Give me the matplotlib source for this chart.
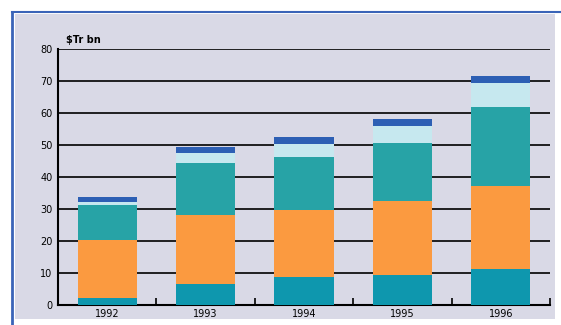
import matplotlib.pyplot as plt
import numpy as np

years = ["1992", "1993", "1994", "1995", "1996"]
# stacked segment heights
seg1 = [2.3, 6.5, 8.9, 9.4, 11.2]
seg2 = [17.9, 21.7, 20.9, 23.0, 26.1]
seg3 = [11.1, 16.2, 16.5, 18.3, 24.5]
seg4 = [0.9, 3.1, 3.9, 5.2, 7.7]
seg5 = [1.6, 1.9, 2.4, 2.1, 2.1]
yticks = [0, 10, 20, 30, 40, 50, 60, 70, 80]
unit_label = "$Tr bn"

colors = ["#0e97ae", "#fb9a40", "#27a3a6", "#c6e8ef", "#2d5fb4"]

fig = plt.figure(figsize=(5.61, 3.25), dpi=100)
fig.patch.set_facecolor("white")

# panel background and blue frame lines
fig.add_artist(plt.Rectangle((15 / 561, 0.02), 540 / 561, 1 - 14 / 325 - 0.02,
                             transform=fig.transFigure, facecolor="#d9d9e6",
                             edgecolor="none", zorder=-10))
fig.add_artist(plt.Line2D([12 / 561, 12 / 561], [0, 1 - 12 / 325], color="#3a64b8", lw=2,
                          transform=fig.transFigure))
fig.add_artist(plt.Line2D([12 / 561, 1], [1 - 12 / 325, 1 - 12 / 325], color="#3a64b8", lw=1.5,
                          transform=fig.transFigure))

ax = fig.add_axes([58 / 561, 1 - 305 / 325, (550 - 58) / 561, (305 - 49) / 325])
ax.set_facecolor("none")

x = np.arange(len(years))
bottom = np.zeros(len(years))
for vals, c in zip([seg1, seg2, seg3, seg4, seg5], colors):
    ax.bar(x, vals, bottom=bottom, width=0.6, color=c, zorder=3)
    bottom += np.array(vals)

ax.set_xlim(-0.5, len(years) - 0.5)
ax.set_ylim(0, 80)
ax.set_yticks(yticks)
ax.set_yticklabels([str(v) for v in yticks], fontsize=7)
for v in yticks[1:]:
    ax.axhline(v, color="black", lw=1.2, zorder=1)

ax.set_xticks(x)
ax.set_xticklabels(years, fontsize=7)
ax.tick_params(axis="x", length=0, pad=3)
ax.set_xticks(np.arange(len(years)) + 0.5, minor=True)
ax.tick_params(axis="x", which="minor", length=5, width=1.2, direction="in", color="black")
ax.tick_params(axis="y", length=0, pad=4)

for s in ["top", "right"]:
    ax.spines[s].set_visible(False)
ax.spines["left"].set_linewidth(1.5)
ax.spines["bottom"].set_linewidth(1.5)

fig.text(66 / 561, 1 - 40 / 325, unit_label.replace("$", r"\$"), fontsize=7,
         fontweight="bold", va="center")

fig.savefig("out.png", dpi=100)
